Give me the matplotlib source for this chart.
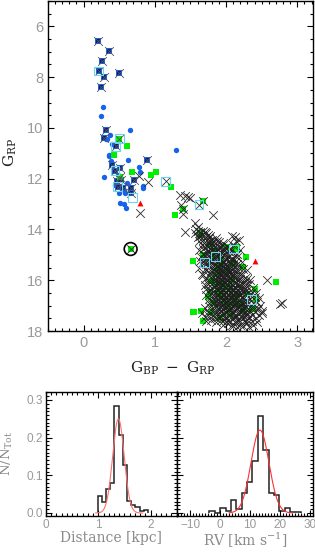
import numpy as np
import matplotlib
matplotlib.use("Agg")
import matplotlib.pyplot as plt
from matplotlib.ticker import MultipleLocator

# ---------------- data ----------------
# plain blue dots (upper sequence)
blue_c = [0.27, 0.25, 0.65, 0.37, 0.33, 0.40, 0.36, 0.62, 1.30, 0.39, 0.78, 0.79, 0.28,
          0.84, 0.84, 0.61, 0.50, 0.58, 0.51, 0.57, 0.60, 0.44, 0.56, 0.48, 0.31, 0.35]
blue_g = [9.16, 9.52, 10.08, 10.29, 10.45, 10.63, 11.08, 11.26, 10.87, 11.31, 11.55, 11.75, 11.92,
          12.27, 12.36, 12.15, 12.55, 12.58, 12.97, 13.00, 13.15, 12.25, 12.45, 11.85, 10.45, 11.10]
# blue stars with dark centre and cross
star_c = [0.20, 0.355, 0.26, 0.21, 0.29, 0.49, 0.24, 0.32, 0.28, 0.50, 0.45, 0.89, 0.40, 0.51,
          0.44, 0.51, 0.47, 0.52, 0.48, 0.55, 0.66, 0.67, 0.71]
star_g = [6.58, 6.96, 7.38, 7.76, 8.00, 7.85, 8.37, 10.10, 10.39, 10.42, 10.73, 11.26, 11.48, 11.57,
          11.68, 11.94, 12.10, 12.07, 12.31, 12.36, 12.36, 12.58, 12.04]
# isolated crosses
cross_c = [0.78, 0.90, 1.15, 0.79, 1.35, 1.42, 1.49, 1.37, 1.39, 1.40, 1.62, 1.67, 1.81, 1.42,
           1.56, 1.61, 1.63, 2.57, 2.79, 2.51, 2.46, 0.66, 2.76, 1.46]
cross_g = [11.88, 12.14, 12.10, 13.35, 12.64, 12.70, 12.76, 13.05, 13.20, 13.40, 13.03, 12.89, 13.43, 14.09,
           13.75, 13.90, 14.14, 16.00, 16.90, 17.20, 17.35, 14.77, 16.95, 12.72]
# crosses of the main red clump, by G_RP row
clump_rows = [14.0, 14.1, 14.2, 14.3, 14.4, 14.5, 14.6, 14.7, 14.8, 14.9, 15.0, 15.1, 15.2, 15.3,
              15.4, 15.5, 15.6, 15.7, 15.8, 15.9, 16.0, 16.1, 16.2, 16.3, 16.4, 16.5, 16.6, 16.7,
              16.8, 16.9, 17.0, 17.1, 17.2, 17.3, 17.4, 17.5, 17.6, 17.7, 17.8]
clump_cols = [[1.58], [1.63, 1.70], [1.66, 1.75], [1.60, 1.72, 2.12], [1.68, 1.80, 2.18],
              [1.74, 1.83, 1.90], [1.66, 1.78, 1.95, 2.10], [1.71, 1.85, 1.92, 2.03],
              [1.62, 1.80, 1.88, 1.98, 2.20], [1.76, 1.84, 1.93, 2.06],
              [1.70, 1.82, 1.90, 1.97, 2.12], [1.65, 1.78, 1.87, 2.02, 2.15],
              [1.74, 1.83, 1.92, 2.00, 2.08], [1.68, 1.80, 1.88, 1.96, 2.05, 2.22],
              [1.75, 1.85, 1.93, 2.01, 2.10], [1.62, 1.80, 1.90, 1.98, 2.06, 2.18],
              [1.72, 1.86, 1.94, 2.02, 2.12, 2.30], [1.78, 1.88, 1.96, 2.04, 2.14],
              [1.68, 1.84, 1.92, 2.00, 2.08, 2.20], [1.80, 1.90, 1.97, 2.05, 2.12, 2.26],
              [1.74, 1.86, 1.94, 2.01, 2.09, 2.17, 2.34], [1.82, 1.91, 1.98, 2.06, 2.13, 2.22],
              [1.70, 1.86, 1.95, 2.03, 2.10, 2.18, 2.28], [1.80, 1.90, 1.98, 2.05, 2.14, 2.24, 2.38],
              [1.76, 1.88, 1.96, 2.02, 2.09, 2.16, 2.30], [1.84, 1.93, 2.00, 2.07, 2.13, 2.21, 2.42],
              [1.72, 1.88, 1.97, 2.04, 2.11, 2.19, 2.34], [1.80, 1.92, 2.00, 2.08, 2.15, 2.25, 2.46],
              [1.86, 1.95, 2.02, 2.10, 2.18, 2.30], [1.76, 1.90, 1.99, 2.06, 2.14, 2.22, 2.38],
              [1.84, 1.94, 2.03, 2.11, 2.20, 2.28, 2.48], [1.70, 1.88, 1.98, 2.07, 2.16, 2.26, 2.40],
              [1.80, 1.93, 2.02, 2.12, 2.22, 2.34], [1.66, 1.86, 1.97, 2.08, 2.18, 2.30, 2.50],
              [1.76, 1.92, 2.04, 2.15, 2.28], [1.84, 1.98, 2.10, 2.24, 2.42],
              [1.72, 1.95, 2.06, 2.20, 2.36], [2.02, 2.14, 2.30], [2.10, 2.24]]
clump_rows2 = [14.05, 14.15, 14.25, 14.35, 14.45, 14.55, 14.65, 14.75, 14.85, 14.95, 15.05, 15.15,
               15.25, 15.35, 15.45, 15.55, 15.65, 15.75, 15.85, 15.95, 16.05, 16.15, 16.25, 16.35,
               16.45, 16.55, 16.65, 16.75, 16.85, 16.95, 17.05, 17.15, 17.25, 17.35, 17.45, 17.55,
               17.65, 17.75, 17.85]
clump_cols2 = [[1.61, 1.68], [1.57, 1.72], [1.64, 1.78, 2.08], [1.70, 1.76, 1.86],
               [1.62, 1.77, 1.87, 2.14], [1.69, 1.80, 1.96], [1.73, 1.82, 1.89, 2.01],
               [1.68, 1.77, 1.95, 2.07], [1.73, 1.85, 1.94, 2.02], [1.68, 1.80, 1.89, 1.99, 2.16],
               [1.75, 1.86, 1.94, 2.04], [1.71, 1.82, 1.91, 1.98, 2.10],
               [1.64, 1.77, 1.87, 1.95, 2.04, 2.14], [1.72, 1.83, 1.91, 1.99, 2.07, 2.16],
               [1.78, 1.87, 1.96, 2.03, 2.13], [1.70, 1.84, 1.93, 2.01, 2.09, 2.24],
               [1.79, 1.90, 1.98, 2.06, 2.17], [1.66, 1.83, 1.92, 2.00, 2.09, 2.21],
               [1.76, 1.87, 1.95, 2.03, 2.10, 2.16], [1.71, 1.84, 1.92, 2.00, 2.08, 2.19, 2.30],
               [1.78, 1.89, 1.97, 2.04, 2.11, 2.26], [1.75, 1.88, 1.94, 2.01, 2.08, 2.16, 2.32],
               [1.83, 1.92, 2.00, 2.07, 2.12, 2.20], [1.72, 1.86, 1.94, 2.02, 2.10, 2.19, 2.27],
               [1.81, 1.91, 1.99, 2.05, 2.12, 2.25, 2.36], [1.77, 1.89, 1.96, 2.03, 2.10, 2.17, 2.28],
               [1.84, 1.93, 2.01, 2.07, 2.14, 2.22, 2.40], [1.76, 1.88, 1.97, 2.04, 2.12, 2.20, 2.33],
               [1.82, 1.92, 2.00, 2.08, 2.16, 2.26, 2.44], [1.86, 1.96, 2.03, 2.11, 2.19, 2.30],
               [1.78, 1.91, 2.00, 2.09, 2.17, 2.24, 2.36], [1.83, 1.95, 2.04, 2.13, 2.21, 2.31, 2.45],
               [1.74, 1.90, 2.00, 2.10, 2.19, 2.27, 2.40], [1.82, 1.94, 2.05, 2.13, 2.24, 2.36],
               [1.70, 1.88, 2.00, 2.12, 2.21, 2.32], [1.79, 1.93, 2.03, 2.16, 2.30],
               [1.86, 2.00, 2.12, 2.26, 2.44], [1.96, 2.08, 2.20, 2.38], [2.16, 2.32]]
# green squares
green_c = [0.61, 0.43, 0.68, 0.94, 1.01, 0.51, 1.23, 0.50, 1.39, 1.28, 1.67, 1.63, 0.66, 1.53,
           1.53, 2.28, 2.70, 1.64, 1.78, 1.67, 1.82, 2.00, 2.15, 2.10, 2.24, 1.86, 1.79, 1.96,
           1.89, 2.05, 2.17, 2.42, 2.38, 2.24, 2.05, 1.91, 1.79, 1.65, 1.55, 1.68, 1.82, 2.00,
           2.10, 1.93, 1.75, 2.03, 1.91, 1.84, 2.40, 2.25, 1.77, 2.13, 1.93, 1.88, 2.08, 1.98,
           2.12, 1.95, 2.20, 2.02, 1.86, 2.30]
green_g = [10.73, 11.05, 11.75, 11.84, 11.72, 11.94, 12.31, 10.42, 13.20, 13.43, 12.89, 14.14, 14.77, 15.23,
           17.27, 15.10, 16.05, 14.20, 14.60, 15.00, 15.04, 14.70, 14.70, 15.33, 15.46, 15.76, 16.02, 16.15,
           16.42, 16.29, 16.55, 16.75, 17.14, 17.20, 17.34, 17.47, 17.27, 17.20, 17.27, 17.60, 16.88, 16.94,
           16.68, 16.61, 16.68, 15.63, 15.37, 14.84, 16.35, 17.17, 16.48, 14.77, 15.21, 15.60, 16.00, 16.80,
           16.95, 16.30, 16.90, 17.05, 16.10, 16.55]
# open cyan squares
cyan_c = [0.21, 0.50, 0.45, 0.44, 1.15, 0.48, 0.69, 1.62, 1.70, 2.10, 2.36, 1.85]
cyan_g = [7.76, 10.42, 10.73, 11.68, 12.10, 12.31, 12.73, 13.03, 15.30, 14.77, 16.75, 15.05]
# red triangles
red_c = [0.79, 2.40]
red_g = [12.97, 15.23]
# circled star
circ_c = [0.66]
circ_g = [14.77]

# histograms
dist_edges = [0.99, 1.07, 1.15, 1.23, 1.31, 1.39, 1.47, 1.55, 1.63, 1.71, 1.79, 1.87, 1.95]
dist_frac = [0.045, 0.030, 0.065, 0.080, 0.285, 0.207, 0.128, 0.032, 0.022, 0.016, 0.006, 0.008]
dist_fit = (0.25, 1.385, 0.11)   # amplitude, mean, sigma

rv_edges = [-3.6, -1.8, 0.0, 1.8, 3.6, 5.4, 7.2, 9.0, 10.8, 12.6, 14.4, 16.2, 18.0, 19.8,
            21.6, 23.4, 25.2, 27.0]
rv_frac = [0.005, 0.0, 0.012, 0.005, 0.034, 0.010, 0.054, 0.082, 0.137, 0.258, 0.166, 0.054,
           0.048, 0.005, 0.012, 0.003, 0.003]
rv_fit = (0.22, 13.3, 3.0)

# ---------------- figure ----------------
W, H = 315, 554
fig = plt.figure(figsize=(W / 100, H / 100), dpi=100)
TICKC = '#9a9a9a'
SERIF = ['DejaVu Serif']
SANS = ['Liberation Sans', 'DejaVu Sans']

def style(ax, fs, pad=3.5):
    ax.tick_params(which='both', direction='in', top=True, right=True, colors='black',
                   labelcolor=TICKC, labelsize=fs, width=0.8, pad=pad)
    ax.tick_params(which='major', length=4.5)
    ax.tick_params(which='minor', length=2.2)
    for s in ax.spines.values():
        s.set_linewidth(1.0)
    for lab in ax.get_xticklabels() + ax.get_yticklabels():
        lab.set_family(SANS)

ax = fig.add_axes([48 / W, 1 - 331 / H, (313 - 48) / W, (331 - 1) / H])

cl_c = [c for row in clump_cols for c in row] + [c for row in clump_cols2 for c in row]
cl_g = ([g for g, row in zip(clump_rows, clump_cols) for _ in row]
        + [g for g, row in zip(clump_rows2, clump_cols2) for _ in row])

ax.scatter(blue_c, blue_g, s=15, color='#1462ee', linewidths=0, zorder=2)
ax.scatter(star_c, star_g, s=22, marker='s', color='#1462ee', linewidths=0, zorder=2)
ax.scatter(star_c, star_g, s=7, marker='s', color='#0a1a6e', linewidths=0, zorder=3)
ax.scatter(green_c, green_g, s=13, marker='s', color='#00ee00', linewidths=0, zorder=3)
ax.scatter(cl_c, cl_g, s=38, marker='x', color='#1e1e1e', linewidths=0.55, zorder=4)
ax.scatter(cross_c, cross_g, s=38, marker='x', color='#2a2a2a', linewidths=0.6, zorder=4)
ax.scatter(star_c, star_g, s=40, marker='x', color='#555555', linewidths=0.6, zorder=4)
ax.scatter(cyan_c, cyan_g, s=40, marker='s', facecolors='none', edgecolors='#6ad6f2',
           linewidths=0.8, zorder=5)
ax.scatter(red_c, red_g, s=18, marker='^', color='#ff0000', linewidths=0, zorder=5)
ax.scatter(circ_c, circ_g, s=85, marker='o', facecolors='none', edgecolors='black',
           linewidths=1.2, zorder=6)

ax.set_xlim(-0.5, 3.22)
ax.set_ylim(18.0, 5.0)
ax.xaxis.set_major_locator(MultipleLocator(1))
ax.xaxis.set_minor_locator(MultipleLocator(0.1))
ax.yaxis.set_major_locator(MultipleLocator(2))
ax.yaxis.set_minor_locator(MultipleLocator(0.5))
ax.set_xticks([0, 1, 2, 3])
ax.set_yticks([6, 8, 10, 12, 14, 16, 18])
style(ax, 10.5)
ax.set_xlabel(r'$\mathregular{G_{BP}\ -\ G_{RP}}$', family=SERIF, fontsize=11,
              color='#222222')
ax.xaxis.set_label_coords(0.47, -0.088)
ax.set_ylabel(r'$\mathregular{G_{RP}}$', family=SERIF, fontsize=11, color='#222222')
ax.yaxis.set_label_coords(-0.11, 0.54)

# bottom panels
axL = fig.add_axes([46 / W, 1 - 516 / H, (176.7 - 46) / W, (516 - 391.7) / H])
axR = fig.add_axes([176.7 / W, 1 - 516 / H, (313 - 176.7) / W, (516 - 391.7) / H])

def gauss(x, p):
    a, m, s = p
    return a * np.exp(-0.5 * ((x - m) / s) ** 2)

axL.stairs(dist_frac, dist_edges, color='#222222', linewidth=1.1, baseline=0)
xx = np.linspace(0.95, 1.85, 300)
axL.plot(xx, gauss(xx, dist_fit), color='#ff7070', linewidth=0.8)
axL.set_xlim(0, 2.5)
axL.set_ylim(-0.008, 0.322)
axL.xaxis.set_major_locator(MultipleLocator(1))
axL.xaxis.set_minor_locator(MultipleLocator(0.1))
axL.yaxis.set_major_locator(MultipleLocator(0.1))
axL.yaxis.set_minor_locator(MultipleLocator(0.01))
axL.set_yticks([0.0, 0.1, 0.2, 0.3])
axL.set_yticklabels(['0.0', '0.1', '0.2', '0.3'])
style(axL, 8.5, pad=2.5)
axL.set_xlabel('Distance [kpc]', family=SERIF, fontsize=10, color='#8a8a8a')
axL.xaxis.set_label_coords(0.5, -0.118)
axL.set_ylabel(r'$\mathregular{N/N_{Tot}}$', family=SERIF, fontsize=9.5, color='#8a8a8a')
axL.yaxis.set_label_coords(-0.235, 0.5)

axR.stairs(rv_frac, rv_edges, color='#222222', linewidth=1.1, baseline=0)
xr = np.linspace(3, 24, 300)
axR.plot(xr, gauss(xr, rv_fit), color='#ff3030', linewidth=0.8)
axR.set_xlim(-14.5, 31)
axR.set_ylim(-0.008, 0.322)
axR.xaxis.set_major_locator(MultipleLocator(10))
axR.xaxis.set_minor_locator(MultipleLocator(1))
axR.yaxis.set_major_locator(MultipleLocator(0.1))
axR.yaxis.set_minor_locator(MultipleLocator(0.01))
axR.set_xticks([-10, 0, 10, 20, 30])
axR.set_xticklabels(['\u221210', '0', '10', '20', '30'])
style(axR, 8.5, pad=2.5)
axR.tick_params(labelleft=False)
axR.set_xlabel(r'RV [km s$^{\mathregular{-1}}$]', family=SERIF, fontsize=10, color='#8a8a8a')
axR.xaxis.set_label_coords(0.5, -0.118)

fig.savefig('out.png', dpi=100)
